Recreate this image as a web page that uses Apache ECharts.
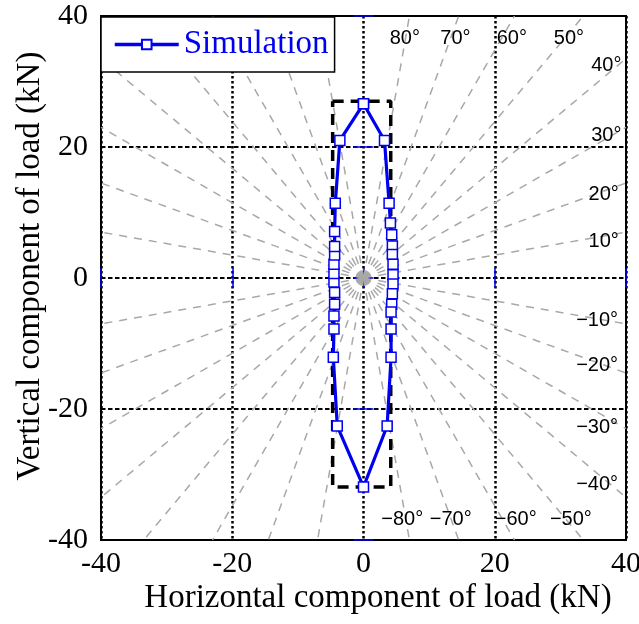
<!DOCTYPE html>
<html><head><meta charset="utf-8">
<script src="https://cdn.jsdelivr.net/npm/echarts/dist/echarts.min.js"></script>
<style>html,body{margin:0;padding:0;background:#fff}#c{width:639px;height:624px}</style>
</head><body><div id="c"></div>
<script>
// ---- data ----
const tickValues = [-40, -20, 0, 20, 40];
const simX = [0.0, 3.2, 3.9, 4.1, 4.3, 4.4, 4.4, 4.5, 4.5, 4.5, 4.4, 4.3, 4.2, 4.2, 4.2, 3.6, 0.0, -4.0, -4.6, -4.5, -4.5, -4.4, -4.4, -4.5, -4.5, -4.5, -4.4, -4.4, -4.4, -4.3, -3.6, 0.0];
const simY = [26.6, 21.0, 11.4, 8.4, 6.6, 4.9, 3.6, 2.1, 0.5, -0.9, -2.4, -4.0, -5.2, -7.8, -12.1, -22.6, -31.9, -22.6, -12.1, -7.8, -5.8, -4.0, -2.2, -0.6, 0.7, 2.1, 3.5, 4.8, 7.1, 11.4, 21.0, 26.6];
const envX = [-4.7, 4.15, 4.15, -4.7, -4.7];
const envY = [27.0, 27.0, -31.9, -31.9, 27.0];
// gray guide rays: end point on the frame (each starts at the origin)
const rayEndX = [40, 40, 40, 40, 33.5, 23.0, 14.5, 7.0,
                 -40, -40, -40, -40, -33.5, -23.0, -14.5, -7.0,
                 40, 40, 40, 40, 33.5, 23.0, 14.5, 7.0,
                 -40, -40, -40, -40, -33.5, -23.0, -14.5, -7.0];
const rayEndY = [7.0, 14.5, 23.0, 33.5, 40, 40, 40, 40,
                 7.0, 14.5, 23.0, 33.5, 40, 40, 40, 40,
                 -7.0, -14.5, -23.0, -33.5, -40, -40, -40, -40,
                 -7.0, -14.5, -23.0, -33.5, -40, -40, -40, -40];
const angleText = ['80°', '70°', '60°', '50°', '40°', '30°', '20°', '10°',
                   '\u221210°', '\u221220°', '\u221230°', '\u221240°', '\u221280°', '\u221270°', '\u221260°', '\u221250°'];
const angleX = [6.3, 14.0, 22.6, 31.3, 37.0, 37.0, 36.6, 36.6, 35.6, 35.6, 35.6, 35.6, 5.9, 13.3, 23.2, 31.6];
const angleY = [36.6, 36.6, 36.6, 36.6, 32.4, 21.8, 12.8, 5.6, -6.5, -13.3, -22.8, -31.5, -36.9, -36.9, -36.9, -36.9];
const xTitle = 'Horizontal component of load (kN)';
const yTitle = 'Vertical component of load (kN)';

// ---- chart ----
const chart = echarts.init(document.getElementById('c'), null, {renderer: 'canvas'});
const BLUE = '#0000f0';
const serif = 'Liberation Serif, Times New Roman, serif';
const series = [];
for (let i = 0; i < rayEndX.length; i++) {
  series.push({
    type: 'line', name: 'ray' + i, silent: true, symbol: 'none', z: 1,
    data: [[0, 0], [rayEndX[i], rayEndY[i]]],
    lineStyle: {color: '#a8a8a8', width: 1.5, type: [8, 7]}
  });
}
series.push({
  type: 'line', name: 'envelope', silent: true, symbol: 'none', z: 2,
  data: envX.map((x, i) => [x, envY[i]]),
  lineStyle: {color: '#000', width: 3.5, type: [11, 7]}
});
series.push({
  type: 'line', name: 'Simulation', z: 3,
  data: simX.map((x, i) => [x, simY[i]]),
  symbol: 'rect', symbolSize: 10,
  lineStyle: {color: BLUE, width: 3.2},
  itemStyle: {color: '#fff', borderColor: BLUE, borderWidth: 1.5}
});

const axisCommon = {
  type: 'value', min: tickValues[0], max: tickValues[tickValues.length - 1], interval: 20,
  axisLine: {show: false},
  axisTick: {show: true, inside: true, length: 10, lineStyle: {color: BLUE, width: 1.5}},
};
chart.setOption({
  animation: false,
  backgroundColor: '#fff',
  grid: {left: 101, top: 16, width: 525, height: 524, show: true, borderColor: '#000', borderWidth: 2,
         backgroundColor: 'transparent', containLabel: false, outerBoundsMode: 'none'},
  legend: {
    data: ['Simulation'], left: 101, top: 17, orient: 'horizontal',
    itemWidth: 64, itemHeight: 12, itemGap: 5, padding: [11, 6, 11, 12],
    borderColor: '#000', borderWidth: 1.5, backgroundColor: '#fff',
    lineStyle: {width: 3.5, color: BLUE},
    textStyle: {color: BLUE, fontFamily: serif, fontSize: 33}
  },
  xAxis: [
    Object.assign({}, axisCommon, {
      position: 'bottom',
      axisLabel: {color: '#000', fontFamily: serif, fontSize: 30, margin: 9},
      splitLine: {show: true, lineStyle: {color: '#000', width: 2.5, type: [2.5, 2.5]}}
    }),
    Object.assign({}, axisCommon, {position: 'top', axisLabel: {show: false}, splitLine: {show: false}})
  ],
  yAxis: [
    Object.assign({}, axisCommon, {
      position: 'left',
      axisLabel: {color: '#000', fontFamily: serif, fontSize: 30, margin: 13},
      splitLine: {show: true, lineStyle: {color: '#000', width: 2, type: [4.5, 2.5]}}
    }),
    Object.assign({}, axisCommon, {position: 'right', axisLabel: {show: false}, splitLine: {show: false}})
  ],
  series: series
});

// text annotations placed through the chart's own coordinate system
const graphics = angleText.map((t, i) => {
  const p = chart.convertToPixel({xAxisIndex: 0, yAxisIndex: 0}, [angleX[i], angleY[i]]);
  return {type: 'text', x: p[0], y: p[1], z: 10, silent: true,
          style: {text: t, fill: '#000', align: 'center', verticalAlign: 'middle',
                  font: '20px "Liberation Sans", Arial, sans-serif'}};
});
graphics.push({type: 'text', x: 378, y: 598, silent: true,
  style: {text: xTitle, fill: '#000', align: 'center', verticalAlign: 'middle', font: '33px "Liberation Serif", "Times New Roman", serif'}});
graphics.push({type: 'text', x: 30, y: 266, rotation: Math.PI / 2, silent: true,
  style: {text: yTitle, fill: '#000', align: 'center', verticalAlign: 'middle', font: '33px "Liberation Serif", "Times New Roman", serif'}});
chart.setOption({graphic: graphics});
</script>
</body></html>
